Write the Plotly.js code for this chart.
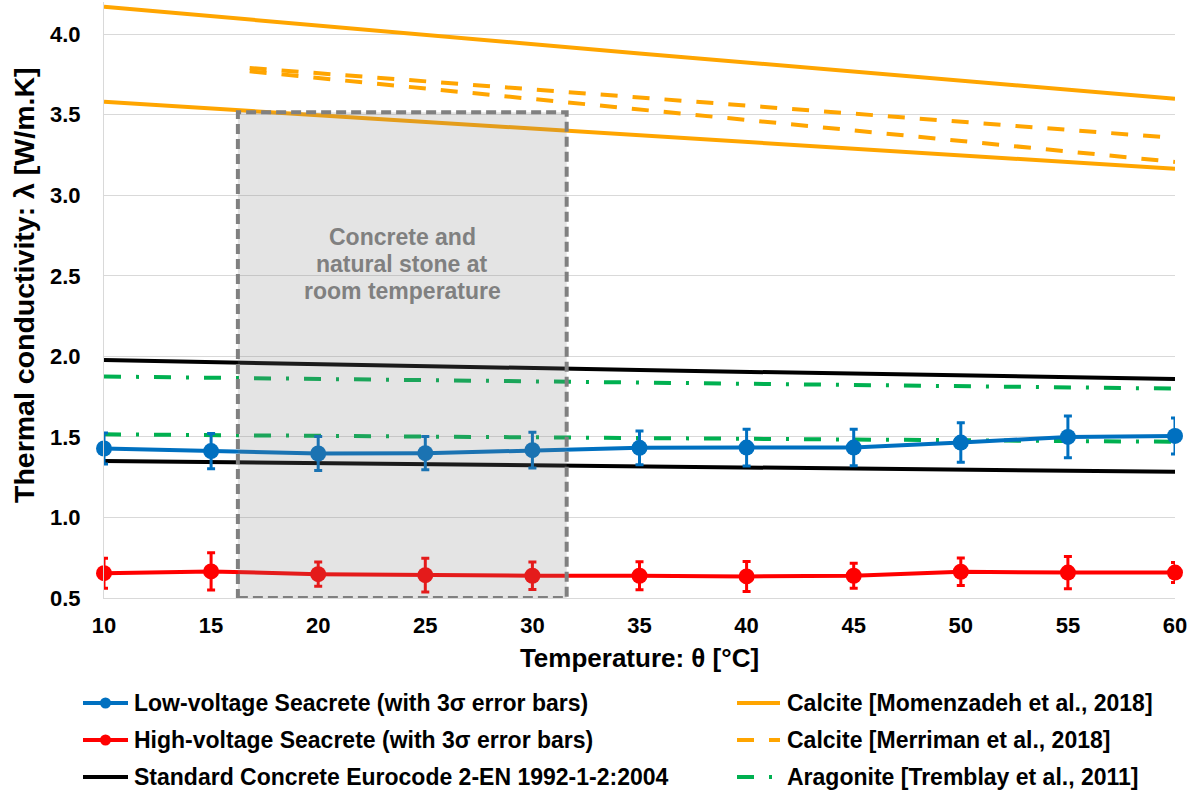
<!DOCTYPE html>
<html><head><meta charset="utf-8">
<script src="https://cdn.plot.ly/plotly-3.0.1.min.js"></script>
<style>body{margin:0;background:#fff}#chart{width:1195px;height:791px}</style>
</head><body><div id="chart"></div>
<script>
const temps = [10,15,20,25,30,35,40,45,50,55,60];
const lowVoltage = [1.428,1.412,1.397,1.399,1.418,1.432,1.434,1.434,1.465,1.500,1.506];
const lowVoltageErr = [0.096,0.109,0.106,0.103,0.111,0.105,0.114,0.113,0.123,0.130,0.112];
const highVoltage = [0.654,0.665,0.648,0.642,0.638,0.638,0.634,0.638,0.663,0.658,0.658];
const highVoltageErr = [0.093,0.116,0.075,0.104,0.085,0.087,0.093,0.078,0.086,0.100,0.062];

const refTemps = [10,35,60];
const eurocodeUpper = [1.977,1.915,1.860];
const eurocodeLower = [1.350,1.314,1.284];
const momenzadehUpper = [4.170,3.880,3.600];
const momenzadehLower = [3.580,3.370,3.165];
const aragoniteUpper = [1.875,1.840,1.800];
const aragoniteLower = [1.516,1.492,1.470];
const merrimanTemps = [16.8,60];
const merrimanUpper = [3.790,3.356];
const merrimanLower = [3.770,3.207];

const roomTempRange = [16.25,31.6];
const roomTempTop = 3.515;
const roomLabelLines = ["Concrete and","natural stone at","room temperature"];
const yTicks = [0.5,1.0,1.5,2.0,2.5,3.0,3.5,4.0];
const xTitle = 'Temperature: θ [°C]';
const yTitle = 'Thermal conductivity: λ [W/m.K]';

const seriesNames = [
  'Low-voltage Seacrete (with 3σ error bars)',
  'High-voltage Seacrete (with 3σ error bars)',
  'Standard Concrete Eurocode 2-EN 1992-1-2:2004',
  'Calcite [Momenzadeh et al., 2018]',
  'Calcite [Merriman et al., 2018]',
  'Aragonite [Tremblay et al., 2011]'
];

const FONT = "Arial, 'Liberation Sans', sans-serif";
const ORANGE = "#FFA500", BLUE = "#0070C0", RED = "#FF0000", GREEN = "#00B050";
const DASH_MERR = '17px,15px', DASH_ARAG = '17px,15px,3px,15px';

const styles = [
  {color:BLUE, dash:'solid', marker:true},
  {color:RED, dash:'solid', marker:true},
  {color:'#000', dash:'solid', marker:false},
  {color:ORANGE, dash:'solid', marker:false},
  {color:ORANGE, dash:DASH_MERR, marker:false},
  {color:GREEN, dash:DASH_ARAG, marker:false}
];

function refLine(x, y, i){
  return {x:x, y:y, mode:'lines', name:seriesNames[i], showlegend:false,
    line:{color:styles[i].color, width:4, dash:styles[i].dash}};
}

const traces = [
  refLine(refTemps, momenzadehUpper, 3),
  refLine(refTemps, momenzadehLower, 3),
  refLine(merrimanTemps, merrimanUpper, 4),
  refLine(merrimanTemps, merrimanLower, 4),
  refLine(refTemps, eurocodeUpper, 2),
  refLine(refTemps, eurocodeLower, 2),
  refLine(refTemps, aragoniteUpper, 5),
  refLine(refTemps, aragoniteLower, 5),
  {x: temps, y: lowVoltage, mode:'lines+markers', name:seriesNames[0], showlegend:false,
   line:{color:BLUE,width:4}, marker:{color:BLUE,size:16}, cliponaxis:false,
   error_y:{type:'data',array:lowVoltageErr,visible:true,color:BLUE,thickness:3,width:4}},
  {x: temps, y: highVoltage, mode:'lines+markers', name:seriesNames[1], showlegend:false,
   line:{color:RED,width:4}, marker:{color:RED,size:16}, cliponaxis:false,
   error_y:{type:'data',array:highVoltageErr,visible:true,color:RED,thickness:3,width:4}}
];

// plot area in pixels (for placing the hand-drawn legend in paper coords)
const M = {l:104, r:20, t:2, b:193};
const W = 1195, H = 791;
const PW = W - M.l - M.r, PH = H - M.t - M.b;
const px = v => (v - M.l) / PW;
const py = v => (H - M.b - v) / PH;

const legendCols = [{x0:83, x1:128, tx:132}, {x0:737, x1:780, tx:785}];
const legendRows = [703, 740, 777];

const shapes = [
  {type:'rect', xref:'x', yref:'y', x0:roomTempRange[0], x1:roomTempRange[1], y0:0.5, y1:roomTempTop,
   fillcolor:'rgba(128,128,128,0.21)', line:{color:'#808080', width:4, dash:'10px,5px'}, layer:'above'}
];
const annotations = roomLabelLines.map((t,i)=>({
  xref:'x', yref:'y', x:(roomTempRange[0]+roomTempRange[1])/2, y:2.572, yshift:(1-i)*27, text:t, showarrow:false,
  font:{family:FONT,size:23,color:'#808080',weight:'bold'}, align:'center'
}));

annotations.push({xref:'paper', yref:'paper', x:px(24), y:py(286), textangle:-90, text:yTitle, showarrow:false,
  xanchor:'center', yanchor:'middle', font:{family:FONT,size:28.5,color:'#000',weight:'bold'}});

seriesNames.forEach((name, i) => {
  const col = legendCols[Math.floor(i/3)], row = legendRows[i%3], st = styles[i];
  shapes.push({type:'line', xref:'paper', yref:'paper', x0:px(col.x0), x1:px(col.x1), y0:py(row), y1:py(row),
    line:{color:st.color, width:4, dash:st.dash}, layer:'above'});
  if (st.marker) {
    shapes.push({type:'circle', xref:'paper', yref:'paper', xsizemode:'pixel', ysizemode:'pixel',
      xanchor:px((col.x0+col.x1)/2), yanchor:py(row), x0:-5.5, x1:5.5, y0:-5.5, y1:5.5,
      fillcolor:st.color, line:{color:st.color, width:0}, layer:'above'});
  }
  annotations.push({xref:'paper', yref:'paper', x:px(col.tx), y:py(row), xanchor:'left', yanchor:'middle',
    text:name, showarrow:false, font:{family:FONT,size:23,color:'#000',weight:'bold'}});
});

const layout = {
  width:W, height:H,
  margin:M,
  paper_bgcolor:'#fff', plot_bgcolor:'#fff',
  font:{family:FONT, color:'#000'},
  showlegend:false,
  xaxis:{range:[10,60], tickvals:temps, ticks:'', showgrid:false, zeroline:false,
    showline:true, linecolor:'#d9d9d9', linewidth:1, ticklabelstandoff:8,
    tickfont:{family:FONT,size:22,weight:'bold'},
    title:{text:xTitle, font:{family:FONT,size:26,weight:'bold'}, standoff:11}},
  yaxis:{range:[0.5,4.2], tickvals:yTicks, tickformat:'.1f', ticks:'',
    showgrid:true, gridcolor:'#d9d9d9', gridwidth:1, zeroline:false,
    showline:true, linecolor:'#d9d9d9', linewidth:1, ticklabelstandoff:18,
    tickfont:{family:FONT,size:22,weight:'bold'}},
  shapes:shapes,
  annotations:annotations
};

Plotly.newPlot('chart', traces, layout, {displayModeBar:false, staticPlot:true});
</script>
</body></html>
